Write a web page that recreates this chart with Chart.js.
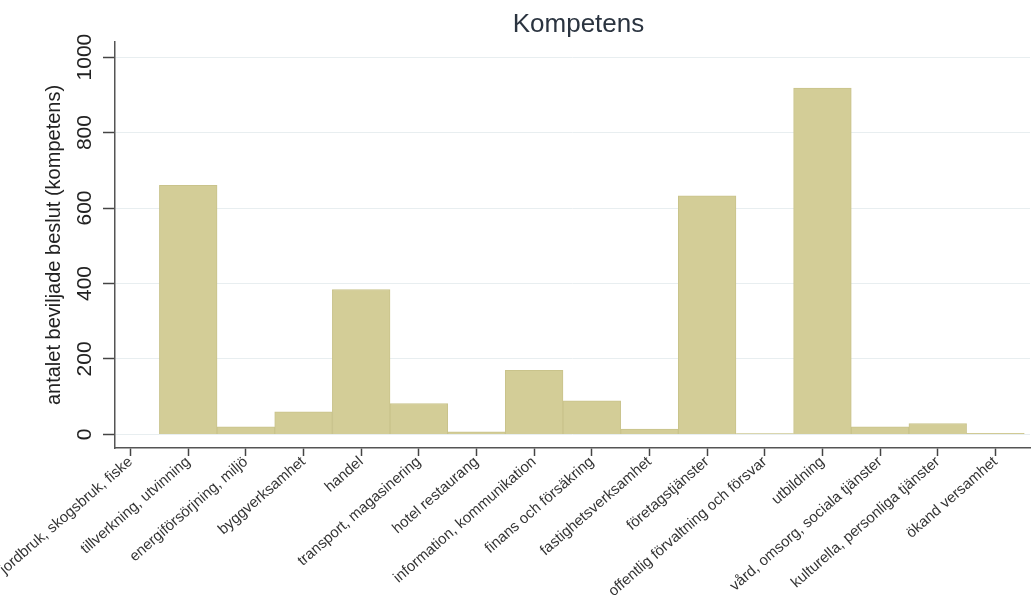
<!DOCTYPE html>
<html lang="sv">
<head>
  <meta charset="UTF-8">
  <title>Kompetens</title>
  <script src="https://cdn.jsdelivr.net/npm/chart.js"></script>
  <style>
    body { margin: 0; background: #fff; }
    #wrap { width: 1034px; height: 596px; }
  </style>
</head>
<body>
  <div id="wrap"><canvas id="kompChart"></canvas></div>

  <script>
    // branscher (x-axelns etiketter)
    const categories = [
      'jordbruk, skogsbruk, fiske',
      'tillverkning, utvinning',
      'energiförsörjning, miljö',
      'byggverksamhet',
      'handel',
      'transport, magasinering',
      'hotel restaurang',
      'information, kommunikation',
      'finans och försäkring',
      'fastighetsverksamhet',
      'företagstjänster',
      'offentlig förvaltning och försvar',
      'utbildning',
      'vård, omsorg, sociala tjänster',
      'kulturella, personliga tjänster',
      'ökand versamhet'
    ];
    // antalet beviljade beslut per bransch
    const antal = [0, 660, 20, 60, 384, 82, 7, 170, 89, 14, 632, 2, 918, 20, 29, 3];
    const yTicks = [0, 200, 400, 600, 800, 1000];

    const FONT = '"Liberation Sans", Arial, sans-serif';

    // titeln centreras över ritytan, som i Stata
    const titlePlugin = {
      id: 'centerTitle',
      afterDraw(chart) {
        const { ctx, chartArea } = chart;
        ctx.save();
        ctx.font = '26px ' + FONT;
        ctx.fillStyle = '#2b3440';
        ctx.textAlign = 'center';
        ctx.textBaseline = 'alphabetic';
        ctx.fillText('Kompetens', (chartArea.left + chartArea.right) / 2 + 6, 32);
        ctx.restore();
      }
    };

    const ctx = document.getElementById('kompChart').getContext('2d');
    new Chart(ctx, {
      type: 'bar',
      data: {
        datasets: [{
          label: 'antalet beviljade beslut (kompetens)',
          data: categories.map((c, i) => ({ x: i, y: antal[i] })),
          backgroundColor: '#d3cd97',
          borderColor: '#c9c38b',
          borderWidth: 1,
          barPercentage: 1,
          categoryPercentage: 1
        }]
      },
      options: {
        responsive: true,
        maintainAspectRatio: false,
        animation: false,
        layout: { padding: { left: 42, top: 42, right: 4, bottom: 0 } },
        plugins: {
          legend: { display: false },
          tooltip: { enabled: false }
        },
        scales: {
          x: {
            type: 'linear',
            offset: false,
            min: -0.27,
            max: 15.6,
            afterBuildTicks: (scale) => {
              scale.ticks = categories.map((c, i) => ({ value: i }));
            },
            afterFit: (scale) => {
              scale.height = 596 - 448;
              scale.paddingLeft = 0;
              scale.paddingRight = 0;
            },
            ticks: {
              autoSkip: false,
              minRotation: 41,
              maxRotation: 41,
              padding: -3,
              color: '#333',
              font: { family: FONT, size: 15 },
              callback: (value) => categories[value]
            },
            grid: {
              offset: false,
              drawOnChartArea: false,
              tickLength: 8,
              tickWidth: 1.5,
              tickColor: '#444'
            },
            border: { display: true, color: '#555', width: 1.5 }
          },
          y: {
            min: -36,
            max: 1040,
            afterBuildTicks: (scale) => {
              scale.ticks = yTicks.map(v => ({ value: v }));
            },
            afterFit: (scale) => {
              scale.width = 115 - 42;
              scale.paddingTop = 0;
              scale.paddingBottom = 0;
            },
            ticks: {
              minRotation: 90,
              maxRotation: 90,
              crossAlign: 'center',
              padding: -6,
              color: '#222',
              font: { family: FONT, size: 21 },
              callback: (value) => String(value)
            },
            grid: {
              color: '#e8eef0',
              lineWidth: 1,
              tickLength: 12,
              tickWidth: 1.5,
              tickColor: '#444'
            },
            border: { display: true, color: '#555', width: 1.5 },
            title: {
              display: true,
              text: 'antalet beviljade beslut (kompetens)',
              color: '#222',
              padding: 0,
              font: { family: FONT, size: 20 }
            }
          }
        }
      },
      plugins: [titlePlugin]
    });
  </script>
</body>
</html>
